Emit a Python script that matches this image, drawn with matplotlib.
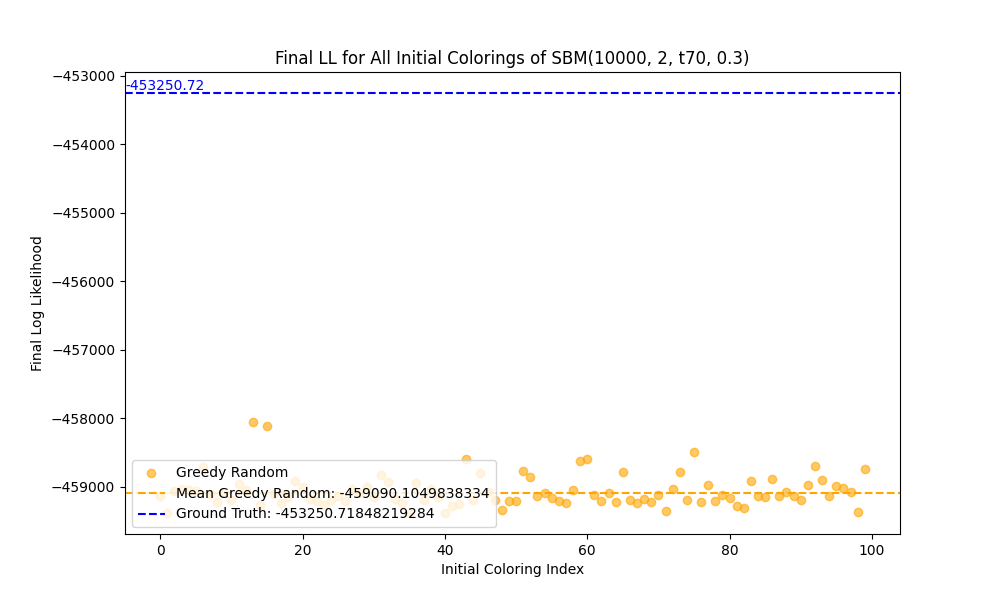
import matplotlib
matplotlib.use('Agg')
import matplotlib.pyplot as plt
import numpy as np

# final log likelihood per initial coloring
final_ll = [
    -459132, -459382, -459059, -459029, -459044, -459059, -458706, -459100, -459220, -459074,
    -459191, -458956, -459044, -458060, -459265, -458110, -459100, -459235, -459150, -458920,
    -459000, -459176, -459200, -459265, -459190, -459130, -459200, -459030, -459090, -459000,
    -459150, -458824, -458926, -459176, -459235, -459380, -458940, -459190, -459030, -459150,
    -459380, -459280, -459250, -458600, -459190, -458800, -459075, -459190, -459340, -459210,
    -459210, -458765, -458850, -459130, -459090, -459160, -459210, -459240, -459045, -458620,
    -458590, -459120, -459210, -459090, -459220, -458790, -459190, -459240, -459180, -459220,
    -459120, -459350, -459030, -458790, -459190, -458485, -459220, -458970, -459210, -459120,
    -459160, -459280, -459310, -458910, -459130, -459150, -458880, -459130, -459070, -459130,
    -459190, -458970, -458690, -458900, -459130, -458990, -459010, -459070, -459370, -458740,
]
mean_ll = -459090.1049838334
ground_truth = -453250.71848219284

idx = np.arange(len(final_ll))

plt.figure(figsize=(10, 6), dpi=100)
plt.scatter(idx, final_ll, color='orange', alpha=0.6, label='Greedy Random')
plt.axhline(mean_ll, color='orange', linestyle='--', label=f'Mean Greedy Random: {mean_ll}')
plt.axhline(ground_truth, color='blue', linestyle='--', label=f'Ground Truth: {ground_truth}')
plt.xlim(-4.95, 103.95)
plt.text(-4.95, ground_truth, f'{ground_truth:.2f}', color='blue', va='bottom', ha='left')
plt.title('Final LL for All Initial Colorings of SBM(10000, 2, t70, 0.3)')
plt.xlabel('Initial Coloring Index')
plt.ylabel('Final Log Likelihood')
plt.legend(loc='lower left')
plt.savefig('out.png')
